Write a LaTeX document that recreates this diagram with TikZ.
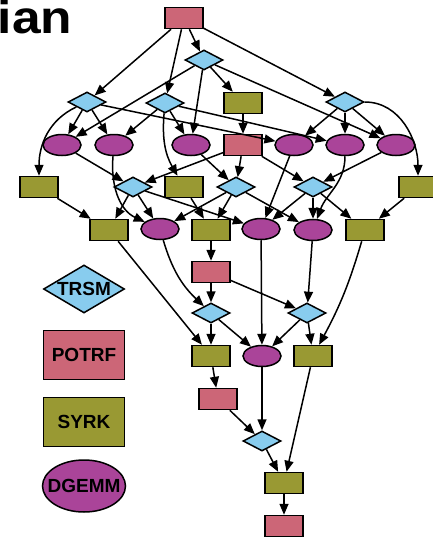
\documentclass[tikz,border=0pt]{standalone}
\usepackage{fontspec}
\setmainfont{Liberation Sans}
\usetikzlibrary{arrows.meta,shapes.geometric}
\definecolor{chrose}{RGB}{204,102,119}
\definecolor{chsky}{RGB}{136,204,238}
\definecolor{cholive}{RGB}{153,153,51}
\definecolor{chplum}{RGB}{170,68,153}

\begin{document}
\begin{tikzpicture}[x=1pt,y=-1pt,line width=1.5pt,>={Triangle[length=11pt,width=9pt]},
  potrf/.style={draw,fill=chrose,minimum width=38pt,minimum height=21pt,inner sep=0pt},
  trsm/.style={draw,fill=chsky,diamond,minimum width=38pt,minimum height=20pt,inner sep=0pt},
  syrk/.style={draw,fill=cholive,minimum width=38pt,minimum height=21pt,inner sep=0pt},
  gemm/.style={draw,fill=chplum,ellipse,minimum width=38pt,minimum height=21pt,inner sep=0pt},
  key/.style={minimum width=81pt,minimum height=49pt,font=\fontsize{19}{19}\selectfont\bfseries}]
  \useasboundingbox (0,0) rectangle (432,538);
  \node[anchor=base west,inner sep=0pt,font=\fontsize{46}{46}\selectfont\bfseries] (ttl) at (-3,33) {\scalebox{1.12}[1]{ian}};

  \node[potrf] (P0) at (184,18) {};
  \node[trsm] (T10) at (204,60) {};
  \node[trsm] (T30) at (87,102) {};
  \node[trsm] (T20) at (165,103) {};
  \node[syrk] (S11) at (243,103) {};
  \node[trsm] (T40) at (345,102) {};
  \node[gemm] (G31) at (62,145) {};
  \node[gemm] (G32) at (114,145) {};
  \node[gemm] (G21) at (191,145) {};
  \node[potrf] (P1) at (243,145) {};
  \node[gemm] (G43) at (294,145) {};
  \node[gemm] (G42) at (345,145) {};
  \node[gemm] (G41) at (396,145) {};
  \node[syrk] (S33) at (39,187) {};
  \node[trsm] (T31) at (133,187) {};
  \node[syrk] (S22) at (184,187) {};
  \node[trsm] (T21) at (236,187) {};
  \node[trsm] (T41) at (313,187) {};
  \node[syrk] (S44) at (418,187) {};
  \node[syrk] (S33b) at (109,230) {};
  \node[gemm] (G32b) at (160,229) {};
  \node[syrk] (S22b) at (211,230) {};
  \node[gemm] (G43b) at (261,229) {};
  \node[gemm] (G42b) at (313,230) {};
  \node[syrk] (S44b) at (365,230) {};
  \node[potrf] (P2) at (211,272) {};
  \node[trsm] (T32) at (211,313) {};
  \node[trsm] (T42) at (307,313) {};
  \node[syrk] (S33c) at (211,356) {};
  \node[gemm] (G43c) at (262,356) {};
  \node[syrk] (S44c) at (313,356) {};
  \node[potrf] (P3) at (218,399) {};
  \node[trsm] (T43) at (262,441) {};
  \node[syrk] (S44d) at (284,483) {};
  \node[potrf] (P4) at (284,526) {};

  \node[trsm,key,minimum height=48pt] (kT) at (84,289) {\makebox[0pt]{TRSM}};
  \node[potrf,key] (kP) at (84,355) {POTRF};
  \node[syrk,key] (kS) at (84,422) {SYRK};
  \node[gemm,key,minimum width=83pt,minimum height=52pt] (kG) at (84,486) {\makebox[0pt]{DGEMM}};

  \foreach \a/\b in {P0/T10,P0/T20,P0/T30,P0/T40,
    T10/S11,T10/G31,T10/G21,T10/G41,T20/G32,T20/G21,T20/G42,
    T30/G31,T30/G32,T30/G43,T40/G43,T40/G42,T40/G41,
    S11/P1,P1/T31,P1/T21,P1/T41,G31/T31,G21/T21,G41/T41,G43/G43b,
    S33/S33b,S22/S22b,S44/S44b,T31/S33b,T31/G32b,T31/G43b,
    T21/G32b,T21/S22b,T21/G42b,T41/G43b,T41/G42b,T41/S44b,
    S22b/P2,P2/T32,P2/T42,G42b/T42,T32/S33c,T32/G43c,T42/G43c,T42/S44c,
    S33b/S33c,G43b/G43c,S33c/P3,P3/T43,G43c/T43,T43/S44d,S44c/S44d,S44d/P4}
    \draw[->] (\a) -- (\b);
  \draw[->] (T30) to[out=205,in=90] (S33);
  \draw[->] (T20) to[out=-95,in=120] (S22);
  \draw[->] (T40) to[out=0,in=90] (S44);
  \draw[->] (G32) to[out=-95,in=155] (G32b);
  \draw[->] (G42) to[out=-90,in=70] (G42b);
  \draw[->] (G32b) to[bend right=15] (T32);
  \draw[->] (S44b) to[bend left=6] (S44c);
\end{tikzpicture}
\end{document}
